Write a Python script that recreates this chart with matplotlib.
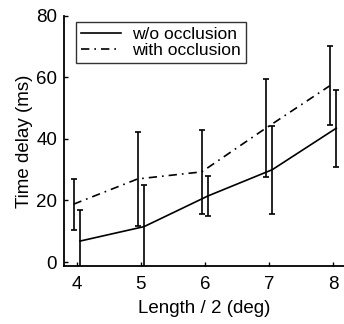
import matplotlib
matplotlib.use("Agg")
import matplotlib.pyplot as plt
import numpy as np

plt.rcParams['font.family'] = ['Liberation Sans', 'DejaVu Sans']

length = np.array([4, 5, 6, 7, 8])
wo_mean = [6.8, 11.5, 21.5, 30.0, 43.5]
wo_err = [10.0, 13.5, 6.6, 14.3, 12.5]
with_mean = [18.8, 27.0, 29.3, 43.5, 57.3]
with_err = [8.3, 15.3, 13.6, 16.0, 12.9]

fig = plt.figure(figsize=(3.44, 3.24), dpi=100)
ax = fig.add_axes([0.186, 0.179, 0.814, 0.772])

ax.errorbar(length + 0.05, wo_mean, yerr=wo_err, color='k', lw=1.2,
            elinewidth=1.2, capsize=2, capthick=1.2, label='w/o occlusion')
ax.errorbar(length - 0.05, with_mean, yerr=with_err, color='k', lw=1.2,
            ls=(0, (5, 3, 1, 3)), elinewidth=1.2, capsize=2, capthick=1.2,
            label='with occlusion')

ax.set_xlim(3.8, 8.17)
ax.set_ylim(-1.3, 80)
ax.set_xticks([4, 5, 6, 7, 8])
ax.set_yticks([0, 20, 40, 60, 80])
ax.spines['top'].set_visible(False)
ax.spines['right'].set_visible(False)
for s in ['left', 'bottom']:
    ax.spines[s].set_linewidth(1.3)
ax.tick_params(direction='in', length=3, width=1.0, labelsize=13.5)
ax.tick_params(axis='x', pad=7)
ax.tick_params(axis='y', pad=5)
ax.set_xlabel('Length / 2 (deg)', fontsize=13.5, labelpad=5)
ax.set_ylabel('Time delay (ms)', fontsize=13.5, labelpad=2)

handles, labels = ax.get_legend_handles_labels()
handles = [h[0] for h in handles]
leg = ax.legend(handles, labels, loc='upper left', fontsize=12.5, frameon=True,
                fancybox=False, edgecolor='k', bbox_to_anchor=(0.043, 0.976),
                handlelength=2.3, borderpad=0.3, labelspacing=0.05,
                handletextpad=0.6, borderaxespad=0)
leg.get_frame().set_linewidth(1.0)

fig.savefig('out.png', dpi=100)
